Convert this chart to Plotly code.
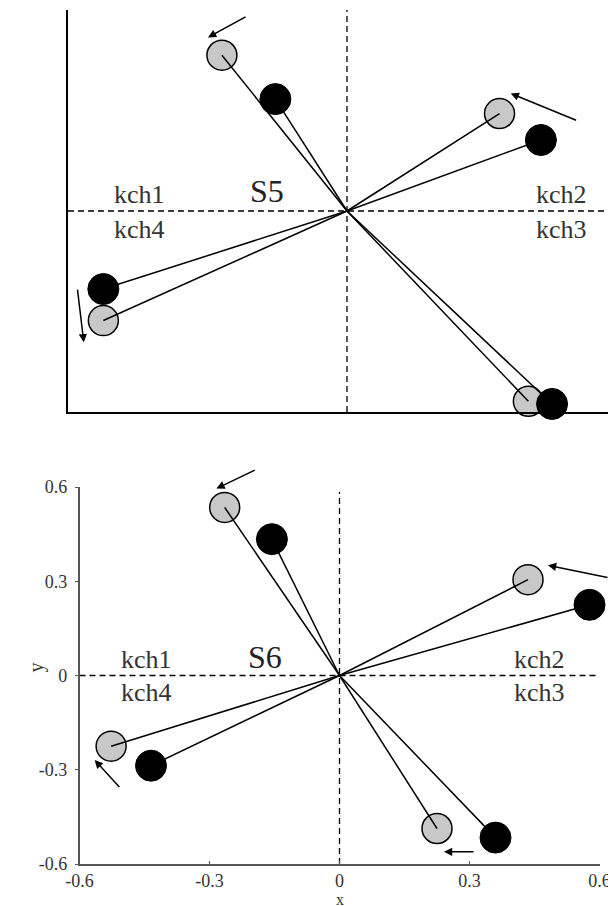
import plotly.graph_objects as go

# S5 (upper panel): hatched = open circles, black = filled circles
s5_open_x = [-0.269, 0.328, -0.524, 0.390]
s5_open_y = [0.465, 0.291, -0.327, -0.568]
s5_fill_x = [-0.154, 0.417, -0.524, 0.441]
s5_fill_y = [0.334, 0.212, -0.233, -0.576]
# arrows, tail -> head
s5_arrow_x0 = [-0.215, 0.496, -0.580]
s5_arrow_y0 = [0.582, 0.269, -0.230]
s5_arrow_x1 = [-0.299, 0.352, -0.566]
s5_arrow_y1 = [0.518, 0.351, -0.392]

# S6 (lower panel)
s6_open_x = [-0.265, 0.435, -0.527, 0.225]
s6_open_y = [0.535, 0.305, -0.225, -0.487]
s6_fill_x = [-0.156, 0.577, -0.435, 0.360]
s6_fill_y = [0.434, 0.225, -0.287, -0.516]
s6_arrow_x0 = [-0.192, 0.622, -0.505, 0.313]
s6_arrow_y0 = [0.656, 0.311, -0.360, -0.561]
s6_arrow_x1 = [-0.284, 0.481, -0.565, 0.241]
s6_arrow_y1 = [0.595, 0.351, -0.269, -0.561]

ticks = [-0.6, -0.3, 0, 0.3, 0.6]
tick_labels = ["-0.6", "-0.3", "0", "0.3", "0.6"]

SERIF = "Liberation Serif, Times New Roman, serif"
top_xmax = 0.5785

# the page body adds an 8px offset, so the figure is drawn 8px smaller
W, H = 608, 898

fig = go.Figure()


def spokes(xs, ys):
    lx, ly = [], []
    for x, y in zip(xs, ys):
        lx += [0, x, None]
        ly += [0, y, None]
    return lx, ly


def add_panel(ox, oy, fx, fy, xr, yr, xa, ya):
    # dashed quadrant lines
    fig.add_trace(go.Scatter(x=[xr[0], xr[1]], y=[0, 0], mode="lines",
                             line=dict(color="black", width=1.3, dash="6px,4px"),
                             xaxis=xa, yaxis=ya, hoverinfo="skip"))
    fig.add_trace(go.Scatter(x=[0, 0], y=[yr[0], yr[1]], mode="lines",
                             line=dict(color="black", width=1.3, dash="6px,4px"),
                             xaxis=xa, yaxis=ya, hoverinfo="skip"))
    fig.add_trace(go.Scatter(x=ox, y=oy, mode="markers", cliponaxis=False,
                             marker=dict(size=30, color="#c8c8c8",
                                         line=dict(color="black", width=1.5)),
                             xaxis=xa, yaxis=ya))
    fig.add_trace(go.Scatter(x=fx, y=fy, mode="markers", cliponaxis=False,
                             marker=dict(size=31, color="black",
                                         line=dict(color="black", width=1)),
                             xaxis=xa, yaxis=ya))
    for xs, ys in ((ox, oy), (fx, fy)):
        lx, ly = spokes(xs, ys)
        fig.add_trace(go.Scatter(x=lx, y=ly, mode="lines",
                                 line=dict(color="black", width=1.5),
                                 xaxis=xa, yaxis=ya, hoverinfo="skip"))


add_panel(s5_open_x, s5_open_y, s5_fill_x, s5_fill_y,
          [-0.6, top_xmax], [-0.6, 0.6], "x", "y")
add_panel(s6_open_x, s6_open_y, s6_fill_x, s6_fill_y,
          [-0.6, 0.6], [-0.6, 0.585], "x2", "y2")

ann = []
for x0, y0, x1, y1 in zip(s5_arrow_x0, s5_arrow_y0, s5_arrow_x1, s5_arrow_y1):
    ann.append(dict(x=x1, y=y1, ax=x0, ay=y0, xref="x", yref="y", axref="x", ayref="y",
                    text="", showarrow=True, arrowhead=2, arrowsize=1.1,
                    arrowwidth=1.5, arrowcolor="black", standoff=0))
for x0, y0, x1, y1 in zip(s6_arrow_x0, s6_arrow_y0, s6_arrow_x1, s6_arrow_y1):
    ann.append(dict(x=x1, y=y1, ax=x0, ay=y0, xref="x2", yref="y2", axref="x2", ayref="y2",
                    text="", showarrow=True, arrowhead=2, arrowsize=1.1,
                    arrowwidth=1.5, arrowcolor="black", standoff=0))

for xr, yr, name in (("x", "y", "S5"), ("x2", "y2", "S6")):
    lab_font = dict(family=SERIF, size=26, color="#333")
    ann += [
        dict(x=-0.446, y=0.05, text="kch1", xref=xr, yref=yr, showarrow=False, font=lab_font),
        dict(x=-0.446, y=-0.055, text="kch4", xref=xr, yref=yr, showarrow=False, font=lab_font),
        dict(x=0.462, y=0.05, text="kch2", xref=xr, yref=yr, showarrow=False, font=lab_font),
        dict(x=0.462, y=-0.055, text="kch3", xref=xr, yref=yr, showarrow=False, font=lab_font),
        dict(x=-0.172, y=0.06, text=name, xref=xr, yref=yr, showarrow=False,
             font=dict(family=SERIF, size=32, color="#222")),
    ]

ann += [
    dict(x=332 / W, y=-3 / H, yanchor="bottom", xref="paper", yref="paper", text="x",
         showarrow=False, borderpad=0, font=dict(family=SERIF, size=16, color="#333")),
    dict(x=14 / W, y=1 - 667 / H, xref="paper", yref="paper", text="y", showarrow=False,
         textangle=-90, font=dict(family=SERIF, size=20, color="#333")),
]

axis_off = dict(showgrid=False, zeroline=False, showticklabels=False, ticks="",
                showline=True, linecolor="black", linewidth=1.5, automargin=False)
axis_on = dict(showgrid=False, zeroline=False, showline=True, linecolor="#555",
               linewidth=1.5, ticklen=3, tickcolor="#555", automargin=False,
               tickvals=ticks, ticktext=tick_labels,
               tickfont=dict(family=SERIF, size=18, color="#333"))

fig.update_layout(
    width=W, height=H,
    margin=dict(l=0, r=0, t=0, b=0, pad=0, autoexpand=False),
    paper_bgcolor="white", plot_bgcolor="white",
    showlegend=False,
    xaxis=dict(domain=[60 / W, 1.0], range=[-0.6, top_xmax], anchor="y", **axis_off),
    yaxis=dict(domain=[1 - 404 / H, 1 - 2 / H], range=[-0.6, 0.6], anchor="x", **axis_off),
    xaxis2=dict(domain=[71.5 / W, 591.5 / W], range=[-0.6, 0.6], anchor="y2",
                ticks="inside", ticklabelstandoff=0, **axis_on),
    yaxis2=dict(domain=[1 - 856 / H, 1 - 479 / H], range=[-0.6, 0.6], anchor="x2",
                ticks="outside", ticklabelstandoff=4, **axis_on),
    annotations=ann,
)

fig.write_html("out.html")
